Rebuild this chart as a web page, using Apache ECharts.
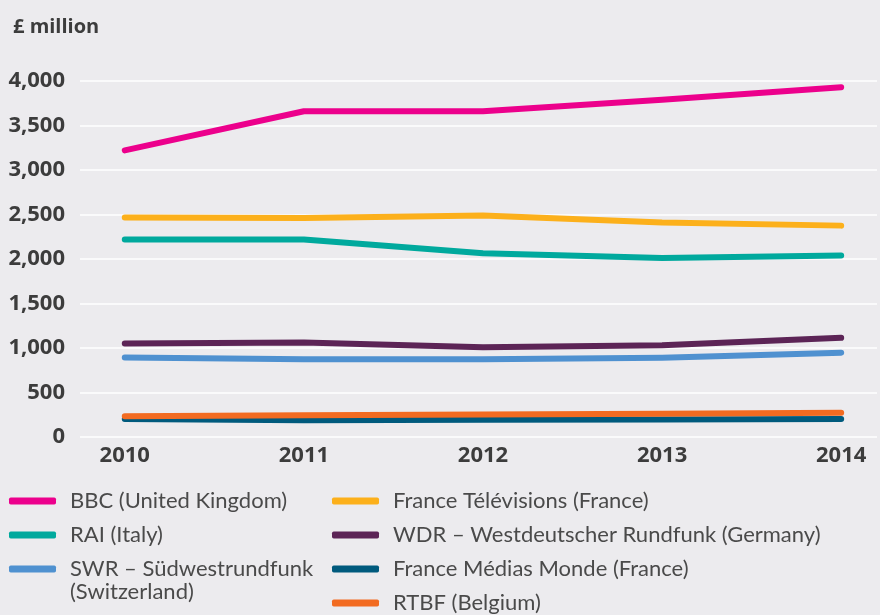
<!DOCTYPE html>
<html>
<head>
<meta charset="utf-8">
<script src="https://cdn.jsdelivr.net/npm/echarts@6/dist/echarts.min.js"></script>
<style>
  html, body { margin: 0; padding: 0; background: #ecebee; }
  #chart { width: 880px; height: 615px; }
</style>
</head>
<body>
<div id="chart"></div>
<script>
// years on the x axis
const years = [2010, 2011, 2012, 2013, 2014];

// £ million
const bbc = [3220, 3660, 3660, 3790, 3930];
const franceTv = [2465, 2460, 2490, 2410, 2375];
const rai = [2220, 2220, 2065, 2010, 2040];
const wdr = [1050, 1062, 1008, 1030, 1115];
const swr = [892, 873, 873, 890, 948];
const fmm = [202, 188, 193, 198, 202];
const rtbf = [233, 244, 254, 262, 272];

const names = [
    'BBC (United Kingdom)',
    'France Télévisions (France)',
    'RAI (Italy)',
    'WDR – Westdeutscher Rundfunk (Germany)',
    'SWR – Südwestrundfunk\n(Switzerland)',
    'France Médias Monde (France)',
    'RTBF (Belgium)'
];
const values = [bbc, franceTv, rai, wdr, swr, fmm, rtbf];
const colors = ['#ec008c', '#fcb01b', '#00a99d', '#5c2456', '#4f91d0', '#005a7d', '#f26b21'];

const leftNames = [names[0], names[2], names[4]];
const rightNames = [names[1], names[3], names[5], names[6]];

let chart = echarts.init(document.getElementById('chart'));

// legend icon sits on the first line only, the wrapped part goes below as plain text
const legendBase = {
    orient: 'vertical',
    top: 489,
    height: 300,
    padding: 0,
    itemGap: 10,
    itemWidth: 47,
    itemHeight: 7,
    icon: 'roundRect',
    selectedMode: false,
    formatter: name => name.split('\n')[0],
    textStyle: {
        fontFamily: 'Lato',
        fontSize: 22,
        color: '#4a4a4a',
        lineHeight: 24,
        padding: [0, 0, 0, 9]
    }
};

chart.setOption({
    backgroundColor: '#ecebee',
    animation: false,
    title: {
        text: '£ million',
        left: 8,
        top: 12,
        textStyle: {
            fontFamily: 'Open Sans',
            fontWeight: 'bold',
            fontSize: 20,
            color: '#3c3c3c'
        }
    },
    legend: [
        Object.assign({}, legendBase, {left: 9, data: leftNames}),
        Object.assign({}, legendBase, {left: 332, data: rightNames})
    ],
    graphic: [{
        type: 'text',
        left: 70,
        top: 581,
        style: {
            text: names[4].split('\n')[1],
            fontFamily: 'Lato',
            fontSize: 22,
            fill: '#4a4a4a'
        }
    }],
    grid: {
        left: 80,
        right: 0,
        top: 81,
        height: 356
    },
    xAxis: {
        type: 'value',
        min: 2009.75,
        max: 2014.2,
        interval: 0.25,
        axisLine: {show: false},
        axisTick: {show: false},
        splitLine: {show: false},
        axisLabel: {
            margin: 8,
            fontFamily: 'Open Sans',
            fontWeight: 'bold',
            fontSize: 22,
            color: '#3c3c3c',
            formatter: v => (Number.isInteger(v) ? String(v) : '')
        }
    },
    yAxis: {
        type: 'value',
        min: 0,
        max: 4000,
        interval: 500,
        axisLine: {show: false},
        axisTick: {show: false},
        splitLine: {lineStyle: {color: '#ffffff', width: 1.5}},
        axisLabel: {
            margin: 15,
            fontFamily: 'Open Sans',
            fontWeight: 'bold',
            fontSize: 22,
            color: '#3c3c3c',
            formatter: v => v.toLocaleString('en-GB')
        }
    },
    series: names.map((name, i) => ({
        name: name,
        type: 'line',
        symbol: 'none',
        color: colors[i],
        lineStyle: {width: 6, cap: 'round', join: 'round', color: colors[i]},
        itemStyle: {color: colors[i]},
        data: years.map((y, j) => [y, values[i][j]])
    }))
});
</script>
</body>
</html>
